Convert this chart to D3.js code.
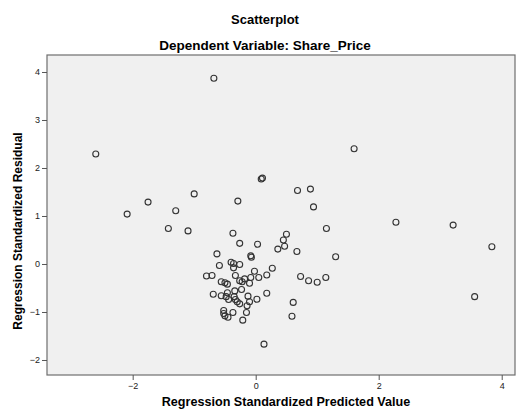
<!DOCTYPE html>
<html>
<head>
<meta charset="utf-8">
<script src="https://cdn.jsdelivr.net/npm/d3@7"></script>
<style>
  html, body { margin: 0; padding: 0; background: #ffffff; }
  svg { display: block; }
  text { font-family: "Liberation Sans", Arial, sans-serif; }
</style>
</head>
<body>
<svg id="chart" width="516" height="414"></svg>
<script>
// Data
const predicted = [
  -0.68, -2.60, 1.60, 0.09, 0.11, 0.68, 0.89, 0.94, -1.00, -1.75,
  -0.29, -1.30, -2.09, 2.28, 3.21, -1.42, -1.10, 1.15, 3.84, 1.30,
  3.56, -0.37, -0.26, 0.03, 0.50, 0.45, 0.47, 0.36, 0.67, -0.63,
  -0.08, -0.07, -0.59, -0.40, -0.36, -0.26, -0.36, 0.27, -0.02, -0.80,
  -0.71, -0.33, -0.08, 0.05, 0.18, -0.18, -0.56, -0.50, -0.26, -0.22,
  -0.10, -0.46, 0.73, 0.86, 1.00, 1.14, -0.69, -0.56, -0.46, -0.34,
  -0.23, -0.48, -0.44, -0.35, -0.33, -0.30, -0.26, -0.125, 0.02, -0.10,
  -0.14, 0.18, -0.15, -0.37, -0.52, -0.52, -0.50, -0.45, -0.21, 0.61,
  0.59, 0.135
];
const residual = [
  3.87, 2.29, 2.40, 1.77, 1.79, 1.53, 1.56, 1.19, 1.46, 1.29,
  1.31, 1.11, 1.04, 0.87, 0.81, 0.74, 0.69, 0.74, 0.36, 0.15,
  -0.68, 0.64, 0.43, 0.41, 0.62, 0.50, 0.37, 0.31, 0.26, 0.21,
  0.17, 0.14, -0.03, 0.035, 0.01, -0.01, -0.08, -0.09, -0.15, -0.25,
  -0.24, -0.24, -0.28, -0.28, -0.23, -0.31, -0.37, -0.39, -0.35, -0.37,
  -0.40, -0.42, -0.26, -0.35, -0.38, -0.28, -0.63, -0.66, -0.60, -0.56,
  -0.53, -0.68, -0.74, -0.68, -0.74, -0.785, -0.83, -0.67, -0.735, -0.785,
  -0.87, -0.61, -1.01, -1.01, -0.97, -1.03, -1.08, -1.11, -1.17, -0.80,
  -1.09, -1.67
];
const xTicks = [-2, 0, 2, 4];
const yTicks = [-2, -1, 0, 1, 2, 3, 4];
const titleText = "Scatterplot";
const subtitleText = "Dependent Variable: Share_Price";
const xLabel = "Regression Standardized Predicted Value";
const yLabel = "Regression Standardized Residual";

const points = predicted.map((p, i) => ({ x: p, y: residual[i] }));

const svg = d3.select("#chart");
const plot = { left: 47, right: 515, top: 55, bottom: 375 };

const x = d3.scaleLinear().domain([-3.393, 4.216]).range([plot.left, plot.right]);
const y = d3.scaleLinear().domain([-2.3125, 4.354]).range([plot.bottom, plot.top]);

// Plot background
svg.append("rect")
  .attr("x", plot.left).attr("y", plot.top)
  .attr("width", plot.right - plot.left).attr("height", plot.bottom - plot.top)
  .attr("fill", "#f0f0f0")
  .attr("stroke", "#6e6e6e").attr("stroke-width", 1.2);

// Axes
const xAxis = svg.append("g")
  .attr("transform", `translate(0,${plot.bottom})`)
  .call(d3.axisBottom(x).tickValues(xTicks).tickSize(5).tickPadding(3).tickFormat(d3.format("d")));
const yAxis = svg.append("g")
  .attr("transform", `translate(${plot.left},0)`)
  .call(d3.axisLeft(y).tickValues(yTicks).tickSize(5).tickPadding(2).tickFormat(d3.format("d")));

[xAxis, yAxis].forEach(g => {
  g.select(".domain").remove();
  g.selectAll(".tick line").attr("stroke", "#555");
  g.selectAll(".tick text")
    .attr("fill", "#222")
    .style("font-size", "9px")
    .style("font-family", "'Liberation Sans', Arial, sans-serif");
});

// Points
svg.append("g")
  .selectAll("circle")
  .data(points)
  .join("circle")
  .attr("cx", d => x(d.x))
  .attr("cy", d => y(d.y))
  .attr("r", 3)
  .attr("fill", "none")
  .attr("stroke", "#333")
  .attr("stroke-width", 1.1);

// Titles
svg.append("text")
  .attr("x", 265).attr("y", 24)
  .attr("text-anchor", "middle")
  .style("font-size", "13px").style("font-weight", "bold")
  .attr("fill", "#000")
  .text(titleText);
svg.append("text")
  .attr("x", 265).attr("y", 50)
  .attr("text-anchor", "middle")
  .style("font-size", "13.5px").style("font-weight", "bold")
  .attr("fill", "#000")
  .text(subtitleText);

// Axis labels
svg.append("text")
  .attr("x", 286).attr("y", 406)
  .attr("text-anchor", "middle")
  .style("font-size", "12.6px").style("font-weight", "bold")
  .attr("fill", "#000")
  .text(xLabel);
svg.append("text")
  .attr("transform", "translate(22,231) rotate(-90)")
  .attr("text-anchor", "middle")
  .style("font-size", "12px").style("font-weight", "bold")
  .attr("fill", "#000")
  .text(yLabel);
</script>
</body>
</html>
